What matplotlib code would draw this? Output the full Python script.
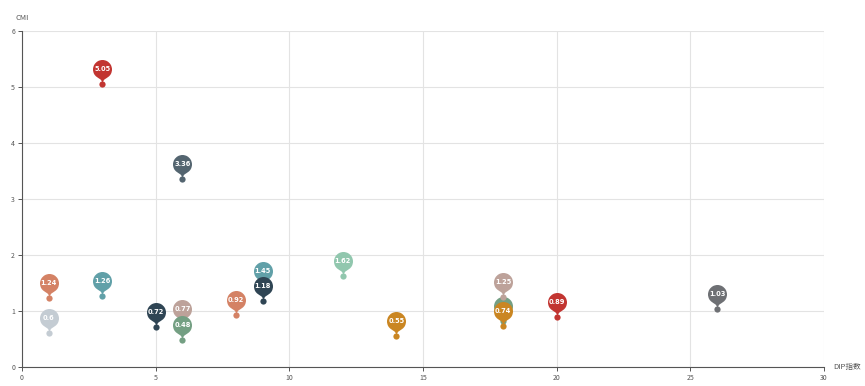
import numpy as np
import matplotlib
matplotlib.use("Agg")
import matplotlib.pyplot as plt
from matplotlib.path import Path

plt.rcParams['font.family'] = ['Noto Sans CJK SC', 'DejaVu Sans']

# data (drawing order = series order)
x_vals = [3, 5, 9, 1, 12, 14, 6, 6, 26, 6, 1, 20, 9, 3, 8, 18, 18, 18]
y_vals = [5.05, 0.72, 1.45, 1.24, 1.62, 0.55, 0.77, 0.48, 1.03, 3.36, 0.6,
          0.89, 1.18, 1.26, 0.92, 0.82, 0.74, 1.25]
colors = ['#c23531', '#2f4554', '#61a0a8', '#d48265', '#91c7ae',
          '#ca8622', '#bda29a', '#749f83', '#6e7074', '#546570', '#c4ccd3',
          '#c23531', '#2f4554', '#61a0a8', '#d48265', '#749f83', '#ca8622', '#bda29a']
show_label = [True] * 15 + [False, True, True]
x_ticks = [0, 5, 10, 15, 20, 25, 30]
y_ticks = [0, 1, 2, 3, 4, 5, 6]
x_name = 'DIP指数'
y_name = 'CMI'

W, H = 865, 386
fig = plt.figure(figsize=(W / 100, H / 100), dpi=100)
ax = fig.add_axes([22 / W, 1 - 367 / H, (824 - 22) / W, (367 - 31) / H])
ax.set_xlim(0, 30)
ax.set_ylim(0, 6)
ax.set_xticks(x_ticks)
ax.set_yticks(y_ticks)
ax.grid(True, color='#e3e3e3', linewidth=0.8, zorder=0)
ax.set_axisbelow(True)
for s in ['top', 'right']:
    ax.spines[s].set_visible(False)
for s in ['left', 'bottom']:
    ax.spines[s].set_color('#555555')
    ax.spines[s].set_linewidth(0.8)
ax.tick_params(axis='both', colors='#555555', labelsize=5, length=3, width=0.7,
               labelcolor='#555555', pad=2)

# pin marker (pixel units, tip at origin)
r = 9.5
C = 15.0
u = (C + np.sqrt(C * C + 4 * r * r)) / 2
dy = r * r / u
a = np.arcsin(dy / r)
dx = np.cos(a) * r
tanX, tanY = np.sin(a), np.cos(a)
cp1, cp2 = r * 0.6, r * 0.7
arc = Path.arc(-np.degrees(a), 180 + np.degrees(a))
verts = list(arc.vertices * r + np.array([0, C]))
codes = list(arc.codes)
verts += [(-dx + tanX * cp1, C - dy - tanY * cp1), (0, cp2), (0, 0),
          (0, cp2), (dx - tanX * cp1, C - dy - tanY * cp1), (dx, C - dy),
          (dx, C - dy)]
codes += [Path.CURVE4] * 6 + [Path.CLOSEPOLY]
pin = Path(np.array(verts), codes)
rescale = np.max(np.abs(pin.vertices))
pin_ms = 2 * rescale * 0.72

for i, (x, y, c, sl) in enumerate(zip(x_vals, y_vals, colors, show_label)):
    z = 3 + i * 0.1
    ax.plot([x], [y], marker=pin, markersize=pin_ms, color=c, markeredgewidth=0,
            linestyle='none', zorder=z, clip_on=False)
    ax.plot([x], [y], marker='o', markersize=4.5, color=c, markeredgewidth=0,
            linestyle='none', zorder=z + 0.01, clip_on=False)
    if sl:
        ax.annotate(f'{y:g}', (x, y), xytext=(0, C * 0.72), textcoords='offset points',
                    ha='center', va='center', color='white', fontsize=4.8,
                    fontweight='bold', zorder=z + 0.02, family='DejaVu Sans')

fig.text(22 / W, 1 - 18 / H, y_name, ha='center', va='center', fontsize=5.5,
         color='#555555')
fig.text(833 / W, 1 - 367 / H, x_name, ha='left', va='center', fontsize=5.5,
         color='#555555')

fig.savefig('out.png', dpi=100)
